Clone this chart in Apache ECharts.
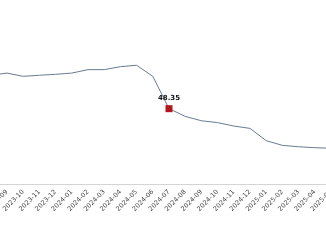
<!DOCTYPE html>
<html><head><meta charset="utf-8">
<script src="https://cdn.jsdelivr.net/npm/echarts@6/dist/echarts.min.js"></script>
<style>html,body{margin:0;padding:0;background:#fff;}#c{width:326px;height:245px;}</style>
</head><body><div id="c"></div>
<script>
const categories = ['2023-08','2023-09','2023-10','2023-11','2023-12','2024-01','2024-02','2024-03','2024-04','2024-05','2024-06','2024-07','2024-08','2024-09','2024-10','2024-11','2024-12','2025-01','2025-02','2025-03','2025-04','2025-05'];
const values = [69.8,71.2,69.1,69.8,70.4,71.2,73.4,73.4,75.3,76.2,69.1,48.35,43.4,40.6,39.4,37.2,35.7,27.8,24.8,23.9,23.3,22.9];
const highlightCategory = '2024-07';
const highlightValue = 48.35;

const chart = echarts.init(document.getElementById('c'), null, {renderer:'canvas'});
chart.setOption({
  animation: false,
  grid: {left: -9.2, right: -5, top: 28.2, bottom: 61, containLabel: false, outerBoundsMode: 'none'},
  xAxis: {
    type: 'category', data: categories, boundaryGap: false,
    axisLine: {show: true, lineStyle: {color: '#d4d4d4', width: 1}},
    axisTick: {show: false},
    axisLabel: {interval: 0, rotate: 45, fontSize: 6.5, color: '#444', margin: 7, fontFamily: 'DejaVu Sans', showMinLabel: true, showMaxLabel: true},
    splitLine: {show: false}
  },
  yAxis: {type: 'value', min: 0, max: 100, show: false, splitLine: {show: false}},
  series: [{
    type: 'line', data: values, symbol: 'none',
    lineStyle: {color: '#6b7b93', width: 1},
    markPoint: {
      symbol: 'rect', symbolSize: 7,
      itemStyle: {color: '#b3161e'},
      label: {show: true, position: 'top', distance: 3, fontSize: 7, fontWeight: 'bold', color: '#111', fontFamily: 'DejaVu Sans', formatter: p => p.value.toFixed(2)},
      data: [{coord: [highlightCategory, highlightValue], value: highlightValue}]
    }
  }]
});
</script></body></html>
